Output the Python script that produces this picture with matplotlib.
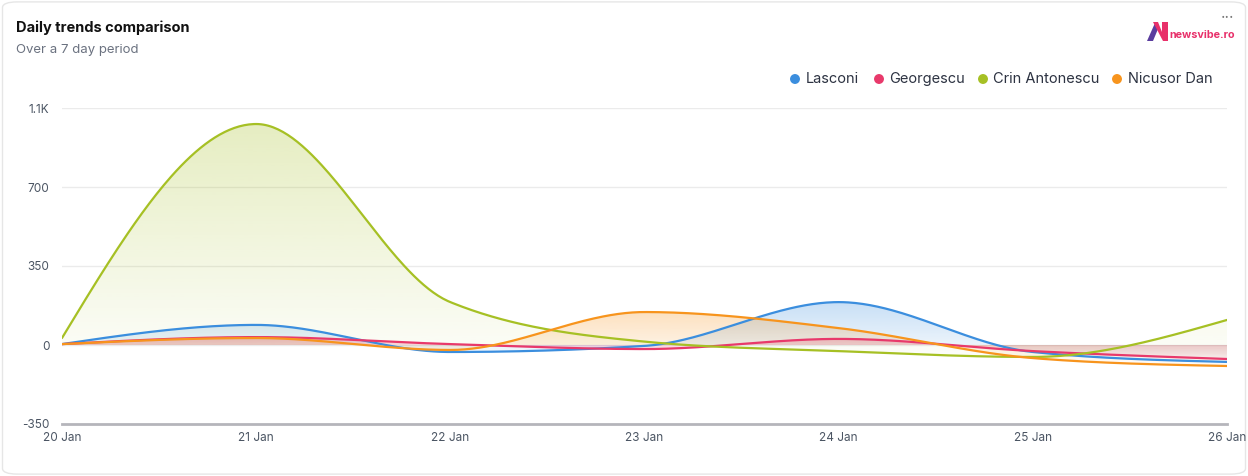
# Daily trends comparison - smooth area chart

import numpy as np
import matplotlib.pyplot as plt
from matplotlib.patches import Polygon, FancyBboxPatch, Ellipse
from matplotlib.colors import to_rgb

plt.rcParams['font.family'] = ['Inter', 'DejaVu Sans']

# Data
days = ['20 Jan', '21 Jan', '22 Jan', '23 Jan', '24 Jan', '25 Jan', '26 Jan']
lasconi = [4, 89, -31, -4, 190, -31, -75]
georgescu = [4, 35, 4, -18, 27, -27, -62]
crin = [31, 979, 190, 15, -27, -53, 111]
nicusor = [4, 31, -22, 146, 75, -58, -93]

y_ticks = [-350, 0, 350, 700, 1050]
y_labels = ['-350', '0', '350', '700', '1.1K']

series = [
    ('Lasconi', lasconi, '#3b8ede'),
    ('Georgescu', georgescu, '#e8396b'),
    ('Crin Antonescu', crin, '#a6c024'),
    ('Nicusor Dan', nicusor, '#f7941d'),
]


def monotone_curve(x, y, n=80):
    # monotone cubic (same idea as d3 curveMonotoneX)
    x = np.asarray(x, float)
    y = np.asarray(y, float)
    h = np.diff(x)
    s = np.diff(y) / h
    m = np.zeros_like(y)
    for i in range(1, len(y) - 1):
        p = (s[i - 1] * h[i] + s[i] * h[i - 1]) / (h[i - 1] + h[i])
        m[i] = (np.sign(s[i - 1]) + np.sign(s[i])) * min(abs(s[i - 1]), abs(s[i]), 0.5 * abs(p))
    m[0] = (3 * s[0] - m[1]) / 2
    m[-1] = (3 * s[-1] - m[-2]) / 2
    xs, ys = [], []
    for i in range(len(h)):
        t = np.linspace(0, 1, n, endpoint=(i == len(h) - 1))
        h00 = 2 * t**3 - 3 * t**2 + 1
        h10 = t**3 - 2 * t**2 + t
        h01 = -2 * t**3 + 3 * t**2
        h11 = t**3 - t**2
        xs.append(x[i] + t * h[i])
        ys.append(h00 * y[i] + h10 * h[i] * m[i] + h01 * y[i + 1] + h11 * h[i] * m[i + 1])
    return np.concatenate(xs), np.concatenate(ys)


fig = plt.figure(figsize=(12.48, 4.76), dpi=100)
W, H = 1248, 476

# card border
card = FancyBboxPatch((0.002, 0.004), 0.996, 0.992, boxstyle='round,pad=0,rounding_size=0.012',
                      transform=fig.transFigure, facecolor='none', edgecolor='#e6e6e6', lw=1.0,
                      zorder=-1)
fig.patches.append(card)

ax = fig.add_axes([62 / W, (H - 424) / H, (1227 - 62) / W, (424 - 108) / H])
ax.set_facecolor('none')

x = np.arange(len(days))
for name, vals, color in series:
    xs, ys = monotone_curve(x, vals)
    top = max(max(vals), 0)
    bot = min(min(vals), 0)
    verts = np.column_stack([np.r_[xs, xs[-1], xs[0]], np.r_[ys, 0, 0]])
    poly = Polygon(verts, closed=True, facecolor='none', edgecolor='none')
    ax.add_patch(poly)
    grad = np.zeros((100, 1, 4))
    grad[:, 0, :3] = to_rgb(color)
    grad[:, 0, 3] = np.linspace(0.28, 0.03, 100)
    im = ax.imshow(grad, extent=[xs[0], xs[-1], bot, top], aspect='auto',
                   origin='upper', interpolation='bilinear', zorder=1)
    im.set_clip_path(poly)
    ax.plot(xs, ys, color=color, lw=1.6, zorder=3, solid_capstyle='round')

ax.set_xlim(0, 6)
ax.set_ylim(-350, 1050)
ax.set_yticks(y_ticks)
ax.set_yticklabels(y_labels)
ax.set_xticks(x)
ax.set_xticklabels(days)
for yv in y_ticks[1:]:
    ax.axhline(yv, color='#ebebeb', lw=1, zorder=0)
ax.axhline(-350, color='#b5b5bb', lw=2, zorder=4, clip_on=False)
for sp in ax.spines.values():
    sp.set_visible(False)
ax.tick_params(axis='both', length=0, colors='#4b5563', labelsize=8.5)
ax.tick_params(axis='y', pad=9)
ax.tick_params(axis='x', pad=6)

# titles
fig.text(16 / W, 1 - 28 / H, 'Daily trends comparison', fontsize=10.5, fontweight='bold',
         color='#111111', va='center', ha='left')
fig.text(16 / W, 1 - 50 / H, 'Over a 7 day period', fontsize=9.5, color='#6b7280',
         va='center', ha='left')

# legend
legend_pos = [(795, 806), (879, 889), (983, 993), (1117, 1128)]
for (name, vals, color), (dx, tx) in zip(series, legend_pos):
    fig.patches.append(Ellipse((dx / W, 1 - 79 / H), 8.5 / W, 8.5 / H, transform=fig.transFigure,
                               color=color))
    fig.text(tx / W, 1 - 79 / H, name, fontsize=10.5, color='#2d3342', va='center', ha='left')

# logo
n_left = Polygon([[1147 / W, 1 - 41 / H], [1153 / W, 1 - 41 / H], [1158 / W, 1 - 29 / H],
                  [1155 / W, 1 - 23 / H]], closed=True, transform=fig.transFigure,
                 facecolor='#5a3d9e', edgecolor='none')
n_right = Polygon([[1153 / W, 1 - 22 / H], [1158 / W, 1 - 22 / H], [1162 / W, 1 - 32 / H],
                   [1162 / W, 1 - 22 / H], [1168 / W, 1 - 22 / H], [1168 / W, 1 - 41 / H],
                   [1163 / W, 1 - 41 / H]], closed=True, transform=fig.transFigure,
                  facecolor='#e8306a', edgecolor='none')
fig.patches.extend([n_left, n_right])
fig.text(1169 / W, 1 - 35 / H, 'newsvibe.ro', fontsize=7.8, fontweight='bold', color='#e8306a',
         va='center', ha='left')
fig.text(1228 / W, 1 - 18 / H, '···', fontsize=11, color='#777777', va='center', ha='center')

plt.savefig('out.png', dpi=100)
